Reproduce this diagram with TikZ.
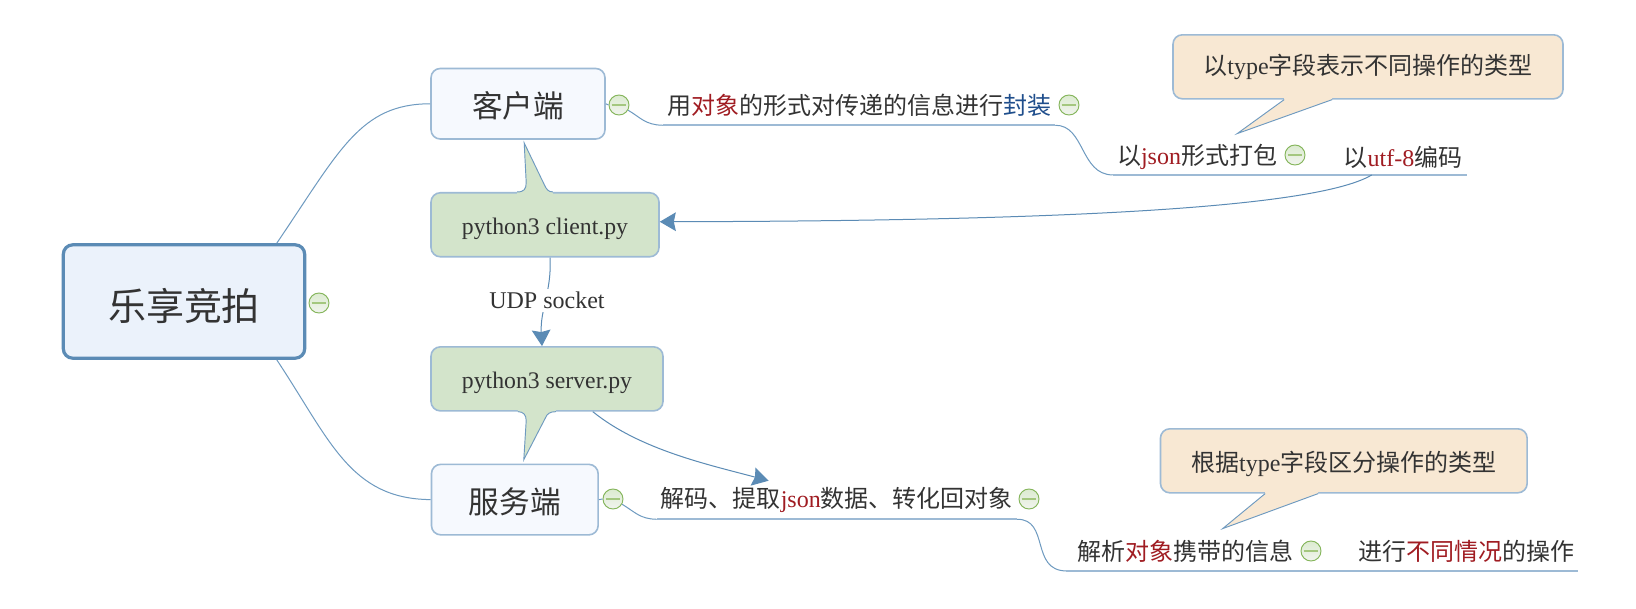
\documentclass[tikz,border=0pt]{standalone}
\usepackage{fontspec}
\setmainfont{Liberation Serif}
\newfontfamily\cjk{Noto Sans CJK SC}
\usetikzlibrary{calc,arrows.meta}
\definecolor{ink}{HTML}{333333}
\definecolor{redw}{HTML}{A01C22}
\definecolor{bluew}{HTML}{1F4E8C}
\definecolor{edge}{HTML}{9DBAD5}
\definecolor{wire}{HTML}{6E9AC0}
\definecolor{strong}{HTML}{5B8BB5}
\definecolor{rootfill}{HTML}{EBF2FB}
\definecolor{subfill}{HTML}{F6F9FE}
\definecolor{greenfill}{HTML}{D3E4CB}
\definecolor{tanfill}{HTML}{F8E8D3}
\definecolor{E1}{HTML}{DCEBD0}
\definecolor{E2}{HTML}{F1F4EF}
\definecolor{E3}{HTML}{A4C77F}
\definecolor{E4}{HTML}{84B55A}
\newcommand{\Z}[1]{{\cjk #1}}
\newcommand{\R}[1]{\textcolor{redw}{#1}}
\newcommand{\B}[1]{\textcolor{bluew}{#1}}
\newcommand{\Low}[2]{\raisebox{-#1}[\height][\depth]{#2}}
\tikzset{
  box/.style={draw=edge,line width=1.2pt,rounded corners=7pt,text=ink,inner sep=0pt,align=center},
  rootbox/.style={box,draw=strong,line width=2.4pt,fill=rootfill,font=\fontsize{28.5pt}{33pt}\selectfont,minimum width=181pt,minimum height=85pt},
  subbox/.style={box,fill=subfill,font=\fontsize{23pt}{26pt}\selectfont},
  greenbox/.style={box,fill=greenfill,font=\fontsize{17.8pt}{20pt}\selectfont,minimum height=48pt},
  tanbox/.style={box,fill=tanfill,font=\fontsize{18pt}{22pt}\selectfont,minimum height=48pt},
  topic/.style={text=ink,inner sep=0pt,font=\fontsize{18pt}{22pt}\selectfont},
  collapse/.style={circle,draw=E4,line width=0.7pt,minimum size=15pt,inner sep=0pt,
    top color=E1,bottom color=E2,
    path picture={\draw[draw=E3,line width=1.5pt] ([xshift=-5.5pt]path picture bounding box.center)--([xshift=5.5pt]path picture bounding box.center);}},
  wirel/.style={draw=wire,line width=0.75pt},
  under/.style={draw=edge,line width=1.2pt},
  rel/.style={draw=strong,line width=0.75pt,-{Stealth[length=12pt,width=14pt,inset=1.5pt]}},
  tailedge/.style={draw=wire,line width=0.7pt},
  udplabel/.style={fill=white,text=ink,inner sep=2pt,font=\fontsize{18pt}{20pt}\selectfont}
}
\begin{document}
\begin{tikzpicture}[x=0.75pt,y=-0.75pt]
\useasboundingbox (0,0) rectangle (1636,608);
\fill[white] (0,0) rectangle (1636,608);

% nodes
\node[rootbox] (root) at (184,301.5) {\Low{3pt}{\Z{乐享竞拍}}};
\node[collapse] (cRoot) at (319,303) {};

\node[subbox,minimum width=130.5pt,minimum height=52.9pt] (client) at (518,103.75) {\Low{1.5pt}{\Z{客户端}}};
\node[subbox,minimum width=125pt,minimum height=52.9pt] (server) at (514.8,499.6) {\Low{1.5pt}{\Z{服务端}}};
\node[greenbox,minimum width=171pt] (pyc) at (545,224.75) {\Low{3pt}{python3 client.py}};
\node[greenbox,minimum width=174pt] (pys) at (547,378.85) {\Low{3pt}{python3 server.py}};

\node[collapse] (cClient) at (619,105) {};
\node[collapse] (cServer) at (613,499) {};

\node[topic,minimum width=294pt,minimum height=30pt] (t1) at (859,105)
  {\Z{用}\R{\Z{对象}}\Z{的形式对传递的信息进行}\B{\Z{封装}}};
\node[collapse] (c1) at (1069,105) {};
\node[topic,minimum width=126pt,minimum height=26.5pt] (t2) at (1197,157)
  {\Z{以}\R{json}\Z{形式打包}};
\node[collapse] (c2) at (1295,155) {};
\node[topic,minimum width=96pt,minimum height=26.5pt] (t3) at (1403,157)
  {\Z{以}\R{utf-8}\Z{编码}};

\node[topic,minimum width=270pt,minimum height=28.5pt] (t4) at (836.8,500)
  {\Z{解码、提取}\R{json}\Z{数据、转化回对象}};
\node[collapse] (c4) at (1029,499) {};
\node[topic,minimum width=177.5pt,minimum height=29.5pt] (t5) at (1185,551)
  {\Z{解析}\R{\Z{对象}}\Z{携带的信息}};
\node[collapse] (c5) at (1311,551) {};
\node[topic,minimum width=168pt,minimum height=29.5pt] (t6) at (1466,551)
  {\Z{进行}\R{\Z{不同情况}}\Z{的操作}};

\node[tanbox,minimum width=292.5pt] (noteA) at (1368,66.8) {\Z{以}type\Z{字段表示不同操作的类型}};
\node[tanbox,minimum width=275pt] (noteB) at (1343.8,460.8) {\Low{2pt}{\Z{根据}type\Z{字段区分操作的类型}}};

% callout tails
\fill[greenfill] ($(pyc.north west)+(87,2)$) -- ($(pyc.north west)+(87,0)$) .. controls ($(pyc.north west)+(94,0)$) and ($(pyc.north west)+(96,-3)$) .. ($(pyc.north west)+(96,-9.5)$)
  -- ($(pyc.north west)+(94,-49)$) -- ($(pyc.north west)+(114,-7.5)$) .. controls ($(pyc.north west)+(116,-3)$) and ($(pyc.north west)+(118,0)$) .. ($(pyc.north west)+(122.6,0)$) -- ($(pyc.north west)+(122.6,2)$) -- cycle;
\draw[tailedge] ($(pyc.north west)+(87,0)$) .. controls ($(pyc.north west)+(94,0)$) and ($(pyc.north west)+(96,-3)$) .. ($(pyc.north west)+(96,-9.5)$)
  -- ($(pyc.north west)+(94,-49)$) -- ($(pyc.north west)+(114,-7.5)$) .. controls ($(pyc.north west)+(116,-3)$) and ($(pyc.north west)+(118,0)$) .. ($(pyc.north west)+(122.6,0)$);

\fill[greenfill] ($(pys.south west)+(87.7,-2)$) -- ($(pys.south west)+(87.7,0)$) .. controls ($(pys.south west)+(93,0)$) and ($(pys.south west)+(96,3)$) .. ($(pys.south west)+(96,9)$)
  -- ($(pys.south west)+(93.6,48)$) -- ($(pys.south west)+(115.5,5.7)$) .. controls ($(pys.south west)+(117,2)$) and ($(pys.south west)+(120,0)$) .. ($(pys.south west)+(125.6,0)$) -- ($(pys.south west)+(125.6,-2)$) -- cycle;
\draw[tailedge] ($(pys.south west)+(87.7,0)$) .. controls ($(pys.south west)+(93,0)$) and ($(pys.south west)+(96,3)$) .. ($(pys.south west)+(96,9)$)
  -- ($(pys.south west)+(93.6,48)$) -- ($(pys.south west)+(115.5,5.7)$) .. controls ($(pys.south west)+(117,2)$) and ($(pys.south west)+(120,0)$) .. ($(pys.south west)+(125.6,0)$);

\fill[tanfill] ($(noteA.south west)+(112,-2)$) -- ($(noteA.south west)+(112,0)$) -- ($(noteA.south west)+(65,34)$) -- ($(noteA.south west)+(160,0)$) -- ($(noteA.south west)+(160,-2)$) -- cycle;
\draw[tailedge] ($(noteA.south west)+(112,0)$) -- ($(noteA.south west)+(65,34)$) -- ($(noteA.south west)+(160,0)$);
\fill[tanfill] ($(noteB.south west)+(105.5,-2)$) -- ($(noteB.south west)+(105.5,0)$) -- ($(noteB.south west)+(63,35)$) -- ($(noteB.south west)+(158.5,0)$) -- ($(noteB.south west)+(158.5,-2)$) -- cycle;
\draw[tailedge] ($(noteB.south west)+(105.5,0)$) -- ($(noteB.south west)+(63,35)$) -- ($(noteB.south west)+(158.5,0)$);

% branches
\draw[wirel] ($(root.north west)+(215,0)$) .. controls (340,150) and (360,104) .. (client.west);
\draw[wirel] ($(root.south west)+(215,0)$) .. controls (330,440) and (350,499) .. (server.west);
\draw[wirel] (client.east) -- (cClient.west);
\draw[wirel] (server.east) -- (cServer.west);

\draw[wirel] (cClient.-30) .. controls (640,117) and (645,125) .. (t1.south west);
\draw[under] (t1.south west) -- (t1.south east);
\draw[wirel] (t1.south east) .. controls (1085,125) and (1080,174.7) .. (t2.south west);
\draw[under] (t2.south west) -- (t2.south east) -- (t3.south west) -- (t3.south east);

\draw[wirel] (cServer.-30) .. controls (635,512) and (640,519) .. (t4.south west);
\draw[under] (t4.south west) -- (t4.south east);
\draw[wirel] (t4.south east) .. controls (1050,519) and (1030,570.7) .. (t5.south west);
\draw[under] (t5.south west) -- (t5.south east) -- (t6.south west) -- (t6.south east);

% relationships
\draw[rel] ($(t3.south west)+(33,0)$) .. controls (1310,212) and (1000,221) .. ($(pyc.east)+(0,-3)$);
\draw[rel] ($(pyc.south)+(5,0)$) .. controls (552,290) and (540,310) .. ($(pys.north)+(-5,0)$);
\draw[rel] ($(pys.south west)+(162.6,0)$) .. controls (640,450) and (710,465) .. ($(t4.north west)+(112,0)$);

\node[udplabel] (udp) at (547,300.5) {UDP socket};
\end{tikzpicture}
\end{document}
